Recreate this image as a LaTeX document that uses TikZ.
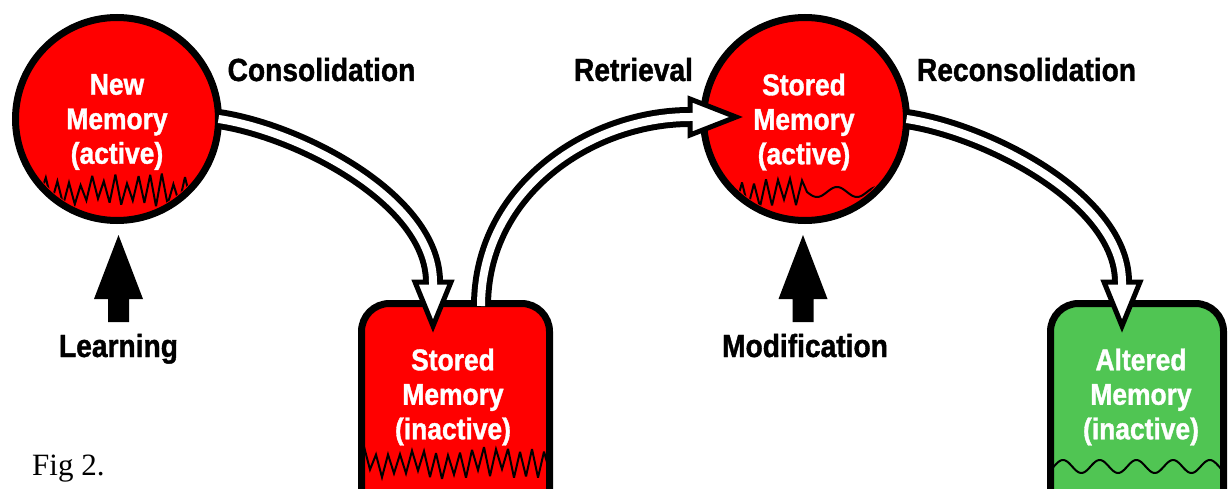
\documentclass[tikz,border=0pt]{standalone}
\usepackage{fontspec}
\setmainfont{Liberation Serif}
\newfontfamily\condfont[FakeStretch=0.88, BoldFeatures={FakeBold=1.2}]{Liberation Sans}
\usetikzlibrary{calc}
\definecolor{memred}{RGB}{255,0,0}
\definecolor{memgreen}{RGB}{80,197,83}
\begin{document}
\begin{tikzpicture}[x=1pt,y=-1pt,
  memcirc/.style={circle, draw=black, line width=7pt, fill=memred, minimum size=203pt, inner sep=0pt, outer sep=0pt},
  membox/.style={rectangle, draw=black, line width=7pt, rounded corners=28pt, inner sep=0pt, outer sep=0pt, minimum height=220pt},
  memtext/.style={text=white, align=center, font=\condfont\bfseries\fontsize{30}{34.5}\selectfont, inner sep=0pt},
  lab/.style={font=\condfont\bfseries\fontsize{32}{34}\selectfont, inner sep=0pt, anchor=base},
  zig/.style={line width=2pt, line join=miter, miter limit=4, black},
  shaftout/.style={line width=20pt, black},
  shaftin/.style={line width=8pt, white},
  headst/.style={line width=5pt, draw=black, fill=white, line join=miter},
  uparrow/.style={fill=black},
]
\useasboundingbox[fill=white] (0,0) rectangle (1228,489);

% memory shapes
\node[memcirc] (c1) at (117,119) {};
\node[memcirc] (c2) at (805,119) {};
\node[membox, fill=memred, minimum width=188pt, anchor=north] (b1) at (455.5,303.5) {};
\node[membox, fill=memgreen, minimum width=173pt, anchor=north] (b2) at (1137,303.5) {};

% traces
\begin{scope}
  \clip (c1.center) circle (97pt);
  \pgfmathsetseed{11}
  \draw[zig] (40,195) \foreach \i in {1,...,27} { -- ({40+5.8*\i},{ifthenelse(isodd(\i),173+13*rnd,198+10*rnd)}) };
\end{scope}
\begin{scope}
  \clip (c2.center) circle (97pt);
  \pgfmathsetseed{23}
  \draw[zig] (724,199) \foreach \i in {1,...,13} { -- ({724+6*\i},{ifthenelse(isodd(\i),174+12*rnd,197+10*rnd)}) }
     -- plot[domain=807:895, samples=60] (\x,{192+5*cos(9*(\x-817))});
\end{scope}
\begin{scope}
  \clip (365,440) rectangle (546,489);
  \pgfmathsetseed{5}
  \draw[zig] (358,474) \foreach \i in {1,...,33} { -- ({358+6*\i},{ifthenelse(isodd(\i),446+12*rnd,469+10*rnd)}) };
\end{scope}
\begin{scope}
  \clip (1051,440) rectangle (1223,489);
  \draw[zig] plot[domain=1045:1230, samples=120] (\x,{466.5-6.5*cos(9.809*(\x-1063))});
\end{scope}

% texts
\node[memtext] (t1) at (117,122) {New\\Memory\\(active)};
\node[memtext] (t2) at (804,122) {Stored\\Memory\\(active)};
\node[memtext] (t3) at (453,397) {Stored\\Memory\\(inactive)};
\node[memtext] (t4) at (1141,397) {Altered\\Memory\\(inactive)};

% connector end points
\coordinate (e1) at ($(b1.north)+(-22.5,-21.5)$);
\coordinate (s2) at ($(b1.north)+(25.5,2.5)$);
\coordinate (e2) at ($(c2.west)+(-13.5,-2)$);
\coordinate (e3) at ($(b2.north)+(-15,-21.5)$);

% consolidation
\draw[shaftout] (c1.east) .. controls (300,131) and (433,200) .. (e1);
\draw[headst] (e1) ++(-18,0) -- ++(18,44) -- ++(18,-44) -- cycle;
\draw[shaftin] (c1.east) .. controls (300,131) and (433,200) .. (e1) -- ++(0,6);

% retrieval
\draw[shaftout] (s2) .. controls (481,190) and (590,117) .. (e2);
\draw[headst] (e2) ++(0,-18) -- ++(46,18) -- ++(-46,18) -- cycle;
\draw[shaftin] (s2) .. controls (481,190) and (590,117) .. (e2) -- ++(6,0);

% reconsolidation
\draw[shaftout] (c2.east) .. controls (988,131) and (1122,200) .. (e3);
\draw[headst] (e3) ++(-18,0) -- ++(18,44) -- ++(18,-44) -- cycle;
\draw[shaftin] (c2.east) .. controls (988,131) and (1122,200) .. (e3) -- ++(0,6);

% labels
\node[lab] (lcons) at (321.5,81) {Consolidation};
\node[lab] (lret) at (633.5,81) {Retrieval};
\node[lab] (lrec) at (1026.5,81) {Reconsolidation};
\node[lab] (llearn) at (118.5,357) {Learning};
\node[lab] (lmod) at (805,357) {Modification};

% input arrows
\coordinate (la) at (118.5,322);
\coordinate (lm) at (803,322);
\fill[uparrow] (la) ++(-10.5,0) -- ++(0,-23) -- ++(-14,0) -- ++(24.5,-64) -- ++(24.5,64) -- ++(-14,0) -- ++(0,23) -- cycle;
\fill[uparrow] (lm) ++(-10.5,0) -- ++(0,-23) -- ++(-14,0) -- ++(24.5,-64) -- ++(24.5,64) -- ++(-14,0) -- ++(0,23) -- cycle;

\node[anchor=base west, inner sep=0pt, font=\fontsize{31}{31}\selectfont] (fig) at (32,475) {Fig 2.};
\end{tikzpicture}
\end{document}
